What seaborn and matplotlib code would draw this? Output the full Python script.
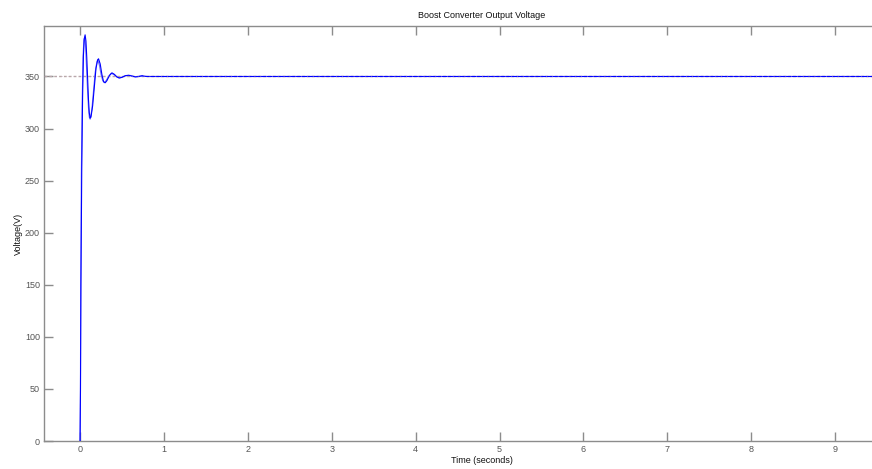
import numpy as np
import pandas as pd
import matplotlib
matplotlib.use("Agg")
import matplotlib.pyplot as plt
import seaborn as sns

# time (s) and output voltage (V)
t_out = [0.0, 0.005, 0.01, 0.02, 0.03, 0.04, 0.05, 0.06, 0.07, 0.08, 0.09,
         0.10, 0.11, 0.12, 0.13, 0.15, 0.17, 0.19, 0.21, 0.22, 0.24, 0.26,
         0.28, 0.30, 0.32, 0.35, 0.38, 0.41, 0.44, 0.47, 0.50, 0.54, 0.58,
         0.62, 0.66, 0.70, 0.74, 0.76, 0.80, 10.0]
v_out = [0, 50, 150, 260, 330, 370, 386, 390, 384, 368, 348,
         328, 315, 310, 311, 322, 340, 358, 366, 367, 362, 352,
         345, 344, 346, 351, 353.5, 352, 349.5, 348.5, 349.2, 350.8, 351.2,
         350.3, 349.6, 350, 350.8, 350.3, 350, 350]

# second (averaged) trace, slightly ahead of the main one
t_avg = [0.0, 0.004, 0.008, 0.015, 0.025, 0.035, 0.045, 0.055, 0.065, 0.075,
         0.09, 0.10, 0.11, 0.12, 0.14, 0.16, 0.18, 0.20, 0.21, 0.23, 0.25,
         0.27, 0.29, 0.31, 0.34, 0.37, 0.40, 0.43, 0.46, 0.50, 0.55, 0.60,
         0.66, 0.72, 0.80, 10.0]
v_avg = [0, 48, 140, 255, 325, 368, 385, 388, 380, 362,
         335, 320, 311, 309, 318, 336, 354, 364, 366, 361, 352,
         346, 344, 346, 350, 353, 352, 350, 348.7, 349.4, 350.9, 351,
         349.7, 350.3, 350, 350]

v_ref = 350
y_ticks = [0, 50, 100, 150, 200, 250, 300, 350]
x_ticks = list(range(0, 10))

sns.set_theme(style="white")
plt.rcParams['font.family'] = ['Liberation Sans', 'DejaVu Sans']

fig = plt.figure(figsize=(8.72, 4.69), dpi=100)
ax = fig.add_axes([44 / 872, 28 / 469, 875 / 872, 414.5 / 469])

ax.axhline(v_ref, color='#b8a8a8', lw=1.0, ls=(0, (2, 1.5)), zorder=1)
sns.lineplot(x=t_avg, y=v_avg, ax=ax, color='#7070ff', lw=0.8,
             estimator=None, sort=False, zorder=2)
sns.lineplot(x=t_out, y=v_out, ax=ax, color='#0000ff', lw=0.8,
             estimator=None, sort=False, zorder=3)
# reference specks stay visible through the settled trace
ax.axhline(v_ref, color='#c0a0c0', lw=0.6, ls=(0, (1, 6)), alpha=0.6, zorder=4)

ax.set_xlim(-0.43, 10.0)
ax.set_ylim(0, 398)
ax.set_xticks(x_ticks)
ax.set_yticks(y_ticks)

for side in ['left', 'bottom', 'top', 'right']:
    ax.spines[side].set_visible(True)
    ax.spines[side].set_color('#8c8c8c')
    ax.spines[side].set_linewidth(1.0)
ax.tick_params(axis='both', direction='in', length=6.5, width=1.0,
               color='#8c8c8c', labelcolor='#555555', labelsize=6.5,
               top=True, right=True, bottom=True, left=True, pad=3)

ax.set_title('Boost Converter Output Voltage', fontsize=6.5, color='#111111', pad=6)
ax.set_xlabel('Time (seconds)', fontsize=6.5, color='#111111', labelpad=1)
ax.set_ylabel('Voltage(V)', fontsize=6.5, color='#111111', labelpad=1)

fig.savefig('out.png', dpi=100)
